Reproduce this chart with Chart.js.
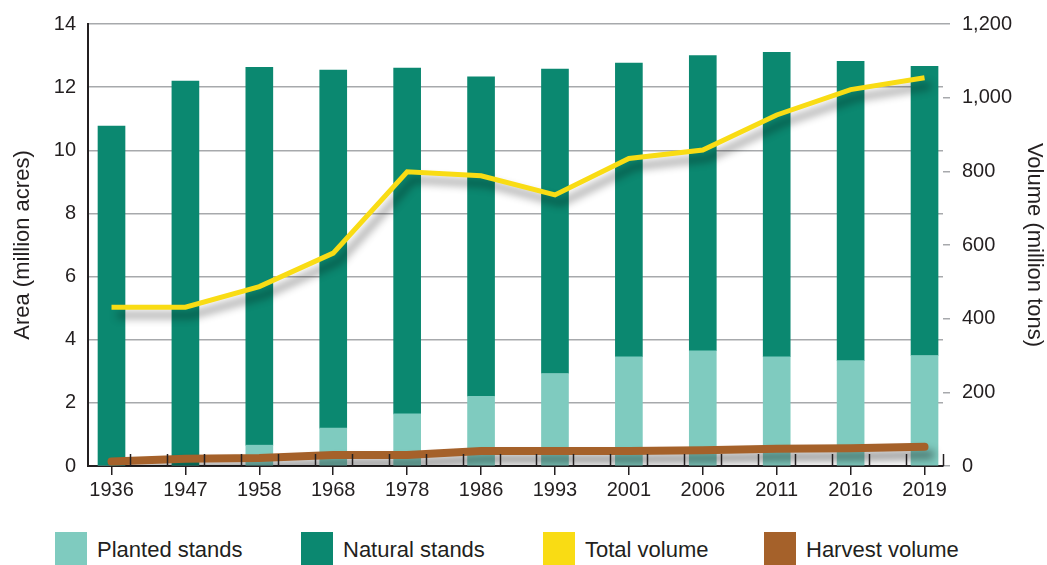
<!DOCTYPE html>
<html>
<head>
<meta charset="utf-8">
<script src="https://cdn.jsdelivr.net/npm/chart.js@4.4.1/dist/chart.umd.min.js"></script>
<style>
  body { margin: 0; background: #fff; }
  #wrap { position: relative; width: 1047px; height: 565px; overflow: hidden; }
  #chartBox { position: absolute; left: 0; top: 0; width: 1047px; height: 520px; }
  #legend { position: absolute; left: 0; top: 532px; width: 1047px; height: 33px;
            font-family: "Liberation Sans", Arial, sans-serif; font-size: 22px; color: #231f20; }
  .item { position: absolute; top: 0; height: 33px; }
  .box { position: absolute; left: 0; top: 0; width: 32px; height: 33px; }
  .lbl { position: absolute; left: 42px; top: 5px; white-space: nowrap; }
</style>
</head>
<body>
<div id="wrap">
  <div id="chartBox"><canvas id="myChart"></canvas></div>
  <div id="legend"></div>
</div>
<script>
var years = ["1936", "1947", "1958", "1968", "1978", "1986", "1993", "2001", "2006", "2011", "2016", "2019"];
// area, million acres
var plantedStands = [0, 0, 0.66, 1.2, 1.65, 2.21, 2.93, 3.46, 3.65, 3.46, 3.34, 3.5];
var totalArea = [10.77, 12.19, 12.63, 12.54, 12.6, 12.33, 12.57, 12.76, 13.0, 13.1, 12.82, 12.66];
// volume, million tons
var totalVolume = [431, 431, 487, 578, 799, 788, 736, 835, 858, 953, 1022, 1054];
var harvestVolume = [12, 20, 22, 30, 30, 41, 41, 41, 43, 47, 48, 52];
var areaTicks = [0, 2, 4, 6, 8, 10, 12, 14];
var volumeTicks = [0, 200, 400, 600, 800, 1000, 1200];

var naturalStands = totalArea.map(function(t, i) { return +(t - plantedStands[i]).toFixed(2); });
function pts(arr) { return arr.map(function(v, i) { return { x: i, y: v }; }); }

var ink = '#231f20';
var gridCol = '#a7a9ac';
var font = "'Liberation Sans', Arial, sans-serif";

// soft drop shadow under the two lines
var lineShadow = {
    id: 'lineShadow',
    beforeDatasetDraw: function(chart, args) {
        if (args.meta.type !== 'line') return;
        var ctx = chart.ctx;
        ctx.save();
        ctx.shadowColor = 'rgba(0,0,0,0.45)';
        ctx.shadowBlur = 9;
        ctx.shadowOffsetX = 6;
        ctx.shadowOffsetY = 8;
    },
    afterDatasetDraw: function(chart, args) {
        if (args.meta.type !== 'line') return;
        chart.ctx.restore();
    }
};

// small upward ticks between categories on the x axis
var innerTicks = {
    id: 'innerTicks',
    afterDraw: function(chart) {
        var x = chart.scales.x, ctx = chart.ctx, b = chart.chartArea.bottom;
        ctx.save();
        ctx.strokeStyle = ink;
        ctx.lineWidth = 1.5;
        for (var k = 0.25; k <= years.length - 0.75 + 0.01; k += 0.5) {
            var px = Math.round(x.getPixelForValue(k)) + 0.5;
            ctx.beginPath();
            ctx.moveTo(px, b);
            ctx.lineTo(px, b - 12);
            ctx.stroke();
        }
        ctx.restore();
    }
};

var ctx = document.getElementById('myChart').getContext('2d');
var chart = new Chart(ctx, {
    data: {
        datasets: [
            {
                type: 'bar', label: 'Planted stands', data: pts(plantedStands),
                backgroundColor: '#7fcbbf', yAxisID: 'y', stack: 'area', order: 3,
                barThickness: 27
            },
            {
                type: 'bar', label: 'Natural stands', data: pts(naturalStands),
                backgroundColor: '#0b8870', yAxisID: 'y', stack: 'area', order: 3,
                barThickness: 27
            },
            {
                type: 'line', label: 'Total volume', data: pts(totalVolume),
                borderColor: '#f9dc14', backgroundColor: '#f9dc14', borderWidth: 5,
                pointRadius: 0, yAxisID: 'y2', order: 1, borderJoinStyle: 'miter'
            },
            {
                type: 'line', label: 'Harvest volume', data: pts(harvestVolume),
                borderColor: '#a5612a', backgroundColor: '#a5612a', borderWidth: 8,
                pointRadius: 0, yAxisID: 'y2', order: 0, borderCapStyle: 'round'
            }
        ]
    },
    options: {
        responsive: true,
        maintainAspectRatio: false,
        animation: false,
        layout: { padding: { top: 22, left: 0, right: 0, bottom: 0 } },
        plugins: { legend: { display: false }, tooltip: { enabled: false } },
        scales: {
            x: {
                type: 'linear', min: -0.318, max: 11.25, offset: false,
                afterBuildTicks: function(s) { s.ticks = years.map(function(_, i) { return { value: i }; }); },
                afterFit: function(s) { s.height = 54; },
                grid: { drawOnChartArea: false, drawTicks: true, tickLength: 9, color: ink, lineWidth: 1.5, offset: false },
                border: { display: true, color: ink, width: 2 },
                ticks: {
                    autoSkip: false, maxRotation: 0, padding: 3, color: ink,
                    font: { family: font, size: 20 },
                    callback: function(v) { return years[v]; }
                }
            },
            y: {
                position: 'left', stacked: true, min: 0, max: 14,
                afterBuildTicks: function(s) { s.ticks = areaTicks.map(function(v) { return { value: v }; }); },
                afterFit: function(s) { s.width = 88; },
                grid: { color: gridCol, lineWidth: 1.5, drawTicks: false },
                border: { display: true, color: ink, width: 2 },
                ticks: { padding: 12, color: ink, font: { family: font, size: 20 } },
                title: {
                    display: true, text: 'Area (million acres)', color: ink,
                    font: { family: font, size: 22 }, padding: { top: 10, bottom: 0 }
                }
            },
            y2: {
                position: 'right', stacked: false, min: 0, max: 1200,
                afterBuildTicks: function(s) { s.ticks = volumeTicks.map(function(v) { return { value: v }; }); },
                afterFit: function(s) { s.width = 104; },
                grid: { drawOnChartArea: false, tickLength: 7, color: gridCol, lineWidth: 1.5 },
                border: { display: false },
                ticks: {
                    padding: 12, color: ink, font: { family: font, size: 20 },
                    callback: function(v) { return v.toLocaleString('en-US'); }
                },
                title: {
                    display: true, text: 'Volume (million tons)', color: ink,
                    font: { family: font, size: 22 }, padding: { top: 0, bottom: 2 }
                }
            }
        }
    },
    plugins: [lineShadow, innerTicks]
});

// legend built from the datasets
var legendLeft = [55, 301, 543, 764];
var leg = document.getElementById('legend');
chart.data.datasets.forEach(function(ds, i) {
    var it = document.createElement('div');
    it.className = 'item';
    it.style.left = legendLeft[i] + 'px';
    it.innerHTML = '<div class="box" style="background:' + ds.backgroundColor + '"></div><div class="lbl">' + ds.label + '</div>';
    leg.appendChild(it);
});
</script>
</body>
</html>
